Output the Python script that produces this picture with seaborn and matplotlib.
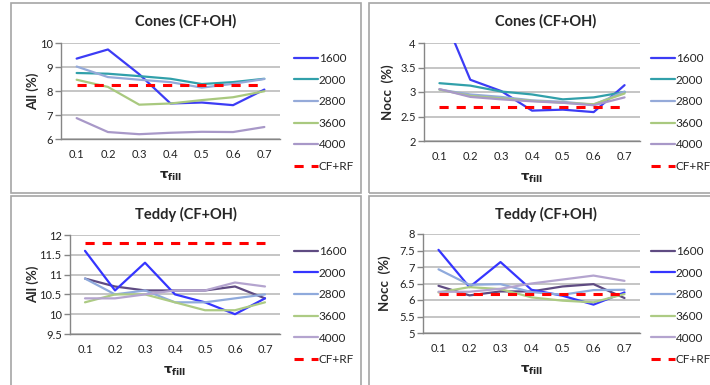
import pandas as pd
import matplotlib
matplotlib.use("Agg")
import matplotlib.pyplot as plt
import seaborn as sns
from matplotlib.patches import Rectangle
from matplotlib.ticker import MultipleLocator, StrMethodFormatter

# x categories (tau_fill)
tau = ["0.1", "0.2", "0.3", "0.4", "0.5", "0.6", "0.7"]
series = ["1600", "2000", "2800", "3600", "4000"]

# Cones, All (%)
cones_all_1600 = [9.35, 9.73, 8.70, 7.48, 7.52, 7.41, 8.06]
cones_all_2000 = [8.75, 8.72, 8.62, 8.51, 8.29, 8.37, 8.51]
cones_all_2800 = [9.02, 8.58, 8.47, 8.37, 8.14, 8.30, 8.50]
cones_all_3600 = [8.47, 8.17, 7.43, 7.48, 7.62, 7.74, 7.99]
cones_all_4000 = [6.87, 6.29, 6.20, 6.26, 6.30, 6.29, 6.50]
cones_all_cfrf = 8.25

# Cones, Nocc (%)
cones_nocc_1600 = [4.75, 3.25, 3.02, 2.62, 2.64, 2.59, 3.14]
cones_nocc_2000 = [3.18, 3.13, 3.01, 2.95, 2.85, 2.89, 3.00]
cones_nocc_2800 = [3.05, 2.95, 2.90, 2.83, 2.80, 2.74, 3.01]
cones_nocc_3600 = [3.05, 2.92, 2.87, 2.82, 2.78, 2.75, 2.97]
cones_nocc_4000 = [3.06, 2.90, 2.85, 2.81, 2.78, 2.73, 2.89]
cones_nocc_cfrf = 2.70

# Teddy, All (%)
teddy_all_1600 = [10.9, 10.7, 10.6, 10.6, 10.6, 10.7, 10.4]
teddy_all_2000 = [11.6, 10.6, 11.3, 10.5, 10.3, 10.0, 10.4]
teddy_all_2800 = [10.9, 10.5, 10.6, 10.3, 10.3, 10.4, 10.5]
teddy_all_3600 = [10.3, 10.5, 10.5, 10.3, 10.1, 10.1, 10.3]
teddy_all_4000 = [10.4, 10.4, 10.5, 10.6, 10.6, 10.8, 10.7]
teddy_all_cfrf = 11.8

# Teddy, Nocc (%)
teddy_nocc_1600 = [6.43, 6.14, 6.26, 6.26, 6.41, 6.48, 6.06]
teddy_nocc_2000 = [7.52, 6.39, 7.15, 6.31, 6.13, 5.86, 6.23]
teddy_nocc_2800 = [6.93, 6.46, 6.48, 6.24, 6.16, 6.30, 6.31]
teddy_nocc_3600 = [6.23, 6.39, 6.33, 6.08, 5.98, 5.93, 6.18]
teddy_nocc_4000 = [6.25, 6.25, 6.34, 6.50, 6.62, 6.74, 6.58]
teddy_nocc_cfrf = 6.17

cones_colors = ["#3c3cf5", "#31a0aa", "#95aad9", "#a9c97f", "#a898c8"]
teddy_colors = ["#5f4b82", "#3535ff", "#8faadc", "#adcb84", "#b4a4cf"]

sns.set_style("white")
plt.rcParams["font.family"] = ["Lato", "DejaVu Sans"]
plt.rcParams["mathtext.fontset"] = "dejavusans"

W, H = 710, 385
fig = plt.figure(figsize=(7.1, 3.85), dpi=100)


def fx(px):
    return px / W


def fy(py):
    return 1 - py / H


# panel boxes (Excel chart borders)
for (x0, y0, x1, y1) in [(11, 3, 361, 193), (369, 3, 722, 193),
                         (11, 196, 361, 390), (369, 196, 722, 390)]:
    fig.patches.append(Rectangle((fx(x0), fy(y1)), fx(x1 - x0), (y1 - y0) / H,
                                 transform=fig.transFigure, fill=False,
                                 edgecolor="#a6a6a6", lw=1.2))

panels = [
    dict(rect=(61, 43, 280, 139), title="Cones (CF+OH)", ylabel="All (%)",
         data=[cones_all_1600, cones_all_2000, cones_all_2800, cones_all_3600, cones_all_4000],
         cfrf=cones_all_cfrf, colors=cones_colors, ylim=(6, 10), step=1,
         box=(11, 3, 361), leg=(294, 53), ylx=33),
    dict(rect=(424, 43, 640, 141), title="Cones (CF+OH)", ylabel="Nocc  (%)",
         data=[cones_nocc_1600, cones_nocc_2000, cones_nocc_2800, cones_nocc_3600, cones_nocc_4000],
         cfrf=cones_nocc_cfrf, colors=cones_colors, ylim=(2, 4), step=0.5,
         box=(369, 3, 722), leg=(651, 53), ylx=388),
    dict(rect=(70, 235, 280, 334), title="Teddy (CF+OH)", ylabel="All (%)",
         data=[teddy_all_1600, teddy_all_2000, teddy_all_2800, teddy_all_3600, teddy_all_4000],
         cfrf=teddy_all_cfrf, colors=teddy_colors, ylim=(9.5, 12), step=0.5,
         box=(11, 196, 361), leg=(294, 246), ylx=33),
    dict(rect=(423, 234, 640, 333), title="Teddy (CF+OH)", ylabel="Nocc  (%)",
         data=[teddy_nocc_1600, teddy_nocc_2000, teddy_nocc_2800, teddy_nocc_3600, teddy_nocc_4000],
         cfrf=teddy_nocc_cfrf, colors=teddy_colors, ylim=(5, 8), step=0.5,
         box=(369, 196, 722), leg=(651, 246), ylx=385),
]

for p in panels:
    l, t, r, b = p["rect"]
    ax = fig.add_axes([fx(l), fy(b), fx(r - l), (b - t) / H])

    rows = []
    for name, vals in zip(series, p["data"]):
        for i, v in enumerate(vals):
            rows.append({"x": i, "value": v, "series": name})
    df = pd.DataFrame(rows)
    sns.lineplot(data=df, x="x", y="value", hue="series", palette=p["colors"],
                 linewidth=1.6, ax=ax, legend=True)
    sns.lineplot(x=list(range(len(tau))), y=[p["cfrf"]] * len(tau), color="#ff0000",
                 linewidth=2.2, linestyle=(0, (3, 2.6)), ax=ax, label="CF+RF")

    ax.set_xlim(-0.5, len(tau) - 0.5)
    ax.set_ylim(*p["ylim"])
    ax.yaxis.set_major_locator(MultipleLocator(p["step"]))
    ax.yaxis.set_major_formatter(StrMethodFormatter("{x:g}"))
    ax.set_xticks(range(len(tau)))
    ax.set_xticklabels(tau)
    ax.set_xticks([i - 0.5 for i in range(len(tau) + 1)], minor=True)
    ax.tick_params(axis="x", which="major", length=0, labelsize=8, pad=7, colors="#222222")
    ax.tick_params(axis="x", which="minor", length=4, width=1, color="#868686")
    ax.tick_params(axis="y", length=4, width=1, labelsize=8,
                   pad=2, left=True, colors="#222222")
    ax.tick_params(axis="y", color="#868686")
    ax.grid(axis="y", color="#c0c0c0", lw=1.3)
    ax.set_axisbelow(True)
    for s in ["top", "right"]:
        ax.spines[s].set_visible(False)
    for s in ["left", "bottom"]:
        ax.spines[s].set_color("#868686")
        ax.spines[s].set_linewidth(1)
    ax.set_xlabel("")
    ax.set_ylabel("")

    bx0, by0, bx1 = p["box"]
    fig.text(fx((bx0 + bx1) / 2), fy(by0 + 18), p["title"], ha="center", va="center",
             fontsize=10.5, fontweight="bold")
    fig.text(fx(p["ylx"]), fy((t + b) / 2), p["ylabel"], rotation=90, ha="center",
             va="center", fontsize=9.5, fontweight="bold")
    fig.text(fx((l + r) / 2), fy(b + 37), r"$\mathbf{\tau_{fill}}$", ha="center",
             va="center", fontsize=9.5)

    handles, labels = ax.get_legend_handles_labels()
    lx, ly = p["leg"]
    ax.legend(handles, labels, loc="upper left", bbox_to_anchor=(fx(lx), fy(ly)),
              bbox_transform=fig.transFigure, frameon=False, fontsize=8.5,
              handlelength=2.0, handletextpad=0.1, labelspacing=0.9,
              borderpad=0, borderaxespad=0)

fig.savefig("out.png", dpi=100)
